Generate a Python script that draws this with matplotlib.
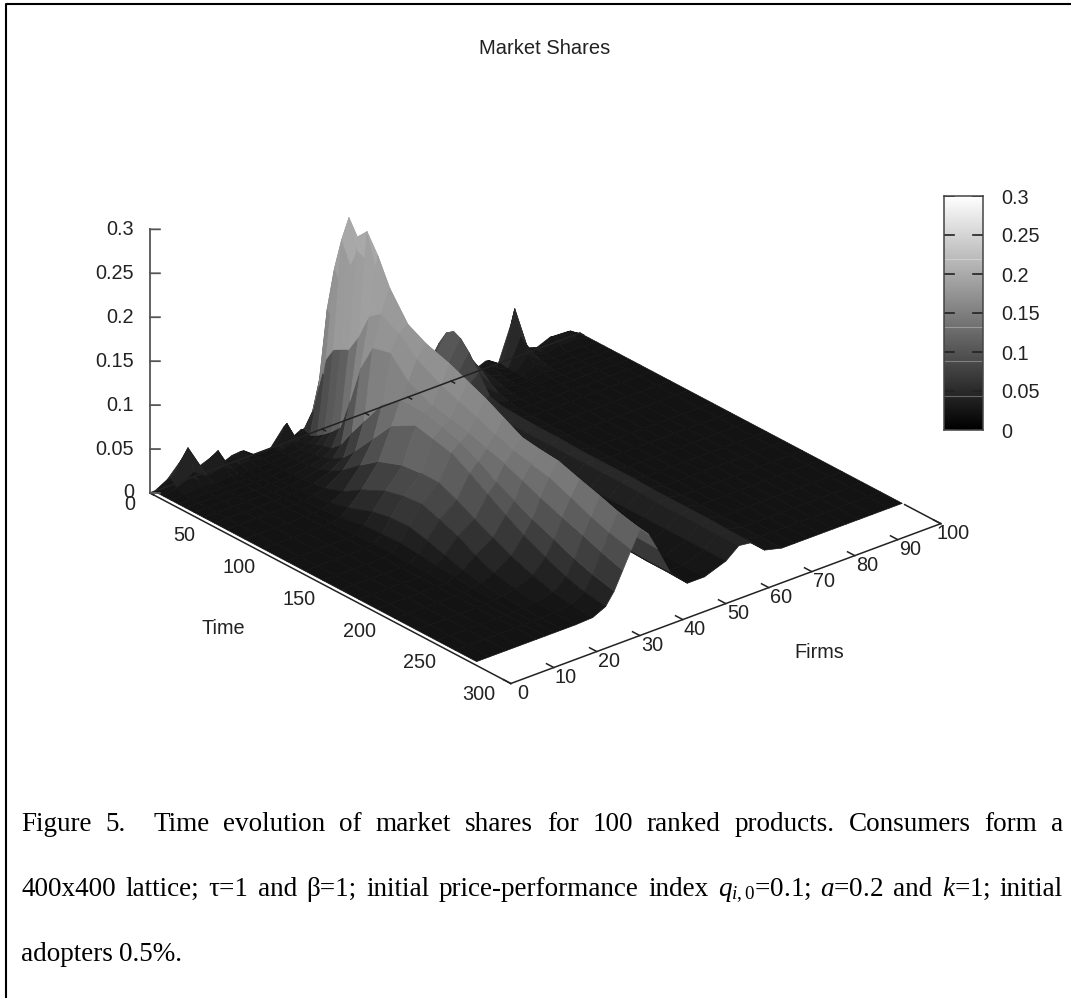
import numpy as np
import matplotlib
matplotlib.use("Agg")
import matplotlib.pyplot as plt
from matplotlib.colors import LinearSegmentedColormap
from mpl_toolkits.mplot3d import proj3d

plt.rcParams['font.family'] = ['Liberation Sans', 'DejaVu Sans']
plt.rcParams['mathtext.fontset'] = 'custom'
plt.rcParams['mathtext.rm'] = 'Liberation Serif'
plt.rcParams['mathtext.it'] = 'Liberation Serif:italic'

W, H = 1071, 998

time_nodes = [0, 3, 8, 14, 20, 26, 33, 41, 50, 60, 75, 90, 110, 125, 140, 155, 170, 185, 200, 218, 235, 250, 268]
firm_nodes = [1, 4, 8, 11, 15, 17, 19, 21, 24, 28, 31, 33, 35, 37, 39, 41, 43, 46, 50, 54,
              59, 62, 65, 68, 72, 75, 78, 81, 84, 87, 90, 93, 97, 100]

# market share x 1000, one row per firm node
shares = [
    [0, 0, 0, 0, 0, 0, 0, 0, 0, 0, 0, 0, 0, 0, 0, 0, 0, 0, 0, 0, 0, 0, 0],
    [8, 11, 4, 1, 0, 0, 0, 0, 0, 0, 0, 0, 0, 0, 0, 0, 0, 0, 0, 0, 0, 0, 0],
    [28, 39, 15, 4, 1, 0, 0, 0, 0, 0, 0, 0, 0, 0, 0, 0, 0, 0, 0, 0, 0, 0, 0],
    [9, 12, 5, 1, 0, 0, 0, 0, 0, 0, 0, 0, 0, 0, 0, 0, 0, 0, 0, 0, 0, 0, 0],
    [16, 23, 9, 2, 0, 0, 0, 0, 0, 0, 0, 0, 0, 0, 0, 0, 0, 0, 0, 0, 0, 0, 0],
    [4, 5, 2, 0, 0, 0, 0, 0, 0, 0, 0, 0, 1, 2, 2, 1, 1, 0, 0, 0, 0, 0, 0],
    [8, 11, 4, 1, 0, 0, 0, 0, 0, 0, 1, 3, 8, 9, 10, 8, 6, 4, 2, 1, 0, 0, 0],
    [9, 12, 5, 1, 0, 0, 0, 0, 1, 2, 5, 10, 20, 24, 25, 20, 14, 8, 4, 2, 1, 0, 0],
    [0, 1, 1, 1, 1, 1, 1, 2, 3, 5, 12, 25, 38, 43, 45, 38, 30, 19, 10, 5, 2, 1, 0],
    [0, 2, 2, 2, 2, 3, 4, 6, 10, 18, 35, 50, 60, 62, 62, 53, 42, 32, 22, 13, 6, 3, 1],
    [18, 25, 8, 4, 5, 6, 8, 12, 20, 35, 60, 85, 100, 95, 90, 78, 65, 52, 40, 28, 18, 12, 8],
    [3, 5, 5, 7, 9, 12, 15, 25, 45, 65, 95, 110, 110, 104, 98, 87, 75, 65, 55, 45, 35, 28, 22],
    [8, 11, 8, 12, 18, 25, 35, 70, 115, 145, 150, 128, 115, 110, 105, 98, 92, 84, 75, 66, 58, 50, 42],
    [8, 28, 60, 95, 110, 115, 120, 140, 170, 180, 168, 150, 135, 127, 120, 111, 103, 99, 95, 85, 75, 68, 62],
    [20, 70, 145, 195, 232, 261, 244, 256, 235, 205, 175, 164, 155, 146, 137, 126, 115, 112, 110, 102, 95, 88, 82],
    [15, 55, 120, 165, 200, 220, 215, 215, 200, 175, 150, 140, 130, 122, 115, 106, 97, 94, 92, 86, 80, 76, 72],
    [10, 35, 75, 105, 130, 140, 140, 140, 130, 115, 100, 92, 85, 78, 72, 67, 63, 61, 60, 57, 55, 53, 52],
    [5, 15, 30, 45, 55, 60, 60, 58, 55, 48, 40, 36, 32, 30, 28, 26, 25, 24, 23, 22, 21, 20, 20],
    [2, 3, 5, 6, 8, 8, 8, 8, 7, 6, 6, 5, 5, 4, 4, 3, 3, 2, 2, 2, 1, 1, 0],
    [0, 1, 1, 2, 3, 4, 3, 2, 1, 1, 1, 1, 1, 1, 1, 1, 1, 1, 0, 0, 0, 0, 0],
    [0, 2, 6, 10, 20, 25, 22, 15, 10, 9, 9, 9, 9, 9, 9, 9, 9, 9, 9, 9, 9, 9, 9],
    [3, 15, 35, 50, 55, 50, 42, 35, 25, 22, 22, 22, 22, 22, 22, 22, 22, 22, 21, 21, 21, 21, 21],
    [10, 30, 58, 74, 80, 76, 65, 48, 28, 24, 23, 22, 22, 21, 21, 21, 21, 20, 20, 20, 20, 19, 19],
    [8, 25, 45, 55, 50, 38, 22, 10, 6, 5, 5, 5, 5, 5, 5, 5, 5, 5, 5, 5, 5, 5, 5],
    [5, 10, 20, 25, 20, 12, 6, 3, 1, 0, 0, 0, 0, 0, 0, 0, 0, 0, 0, 0, 0, 0, 0],
    [2, 3, 6, 8, 6, 3, 1, 0, 0, 0, 0, 0, 0, 0, 0, 0, 0, 0, 0, 0, 0, 0, 0],
    [8, 11, 5, 2, 1, 0, 0, 0, 0, 0, 0, 0, 0, 0, 0, 0, 0, 0, 0, 0, 0, 0, 0],
    [0, 1, 0, 0, 0, 0, 0, 0, 0, 0, 0, 0, 0, 0, 0, 0, 0, 0, 0, 0, 0, 0, 0],
    [40, 59, 30, 15, 8, 4, 2, 1, 1, 0, 0, 0, 0, 0, 0, 0, 0, 0, 0, 0, 0, 0, 0],
    [6, 9, 6, 3, 1, 0, 0, 0, 0, 0, 0, 0, 0, 0, 0, 0, 0, 0, 0, 0, 0, 0, 0],
    [2, 3, 1, 0, 0, 0, 0, 0, 0, 0, 0, 0, 0, 0, 0, 0, 0, 0, 0, 0, 0, 0, 0],
    [8, 11, 5, 1, 0, 0, 0, 0, 0, 0, 0, 0, 0, 0, 0, 0, 0, 0, 0, 0, 0, 0, 0],
    [7, 10, 5, 1, 0, 0, 0, 0, 0, 0, 0, 0, 0, 0, 0, 0, 0, 0, 0, 0, 0, 0, 0],
    [0, 0, 0, 0, 0, 0, 0, 0, 0, 0, 0, 0, 0, 0, 0, 0, 0, 0, 0, 0, 0, 0, 0],
]

time_ticks = [0, 50, 100, 150, 200, 250, 300]
firm_ticks = [0, 10, 20, 30, 40, 50, 60, 70, 80, 90, 100]
z_ticks = [0, 0.05, 0.1, 0.15, 0.2, 0.25, 0.3]
z_tick_labels = ['0', '0.05', '0.1', '0.15', '0.2', '0.25', '0.3']
bar_bands = [0.043, 0.088, 0.132, 0.219]

caption1 = "Figure 5.  Time evolution of market shares for 100 ranked products. Consumers form a"
caption2 = (r"400x400 lattice; τ=1 and β=1; initial price-performance index "
            r"$q_{\mathit{i,0}}$=0.1; $a$=0.2 and $k$=1; initial")
caption3 = "adopters 0.5%."

fig = plt.figure(figsize=(W / 100, H / 100), dpi=100, facecolor='white')
ax = fig.add_axes([0.1, 0.1, 0.8, 0.8], projection='3d', proj_type='ortho')
ax.set_axis_off()
ax.computed_zorder = False
ax.view_init(elev=26.3, azim=-40)
ax.set_xlim(0, 300)
ax.set_ylim(0, 100)
ax.set_zlim(0, 0.3)
ax.set_box_aspect((1, 1, 0.524))


def to_px(x, y, z):
    x2, y2, _ = proj3d.proj_transform(x, y, z, ax.get_proj())
    return ax.transData.transform((x2, y2))


# fit the box to where the origin and the time axis sit in the picture
ax.apply_aspect()
d = np.hypot(*(to_px(300, 0, 0) - to_px(0, 0, 0)))
ax.set_box_aspect((1, 1, 0.524), zoom=408.0 / d)
ax.apply_aspect()
p = to_px(0, 0, 0)
pos = ax.get_position()
ax.set_position([pos.x0 + (150 - p[0]) / W, pos.y0 + (H - 493 - p[1]) / H, pos.width, pos.height])
ax.apply_aspect()

surface_cmap = LinearSegmentedColormap.from_list(
    'surf', [(0, '#131313'), (0.037, '#1b1b1b'), (0.185, '#484848'), (0.37, '#7a7a7a'),
             (0.555, '#909090'), (0.74, '#a0a0a0'), (1, '#b4b4b4')])

Z = np.array(shares, dtype=float) / 1000
TT, FF = np.meshgrid(time_nodes, firm_nodes)
zm = (Z[:-1, :-1] + Z[1:, :-1] + Z[:-1, 1:] + Z[1:, 1:]) / 4
ax.plot_surface(TT, FF, Z, rstride=1, cstride=1, facecolors=surface_cmap(zm / 0.27), shade=False,
                linewidth=0.5, antialiased=True, zorder=1)

# axes
axis_kw = dict(color='#222222', lw=1.1, zorder=5, clip_on=False)
ax.plot([0, 300], [0, 0], [0, 0], **axis_kw)
ax.plot([300, 300], [0, 100], [0, 0], **axis_kw)
ax.plot([0, 0], [0, 100], [0, 0], **axis_kw)
ax.plot([270, 300], [100, 100], [0, 0], **axis_kw)
ax.plot([0, 0], [0, 0], [0, 0.3], color='#555555', lw=1.3, zorder=5)

for t in time_ticks:
    p = to_px(t, 0, 0)
    fig.text((p[0] - 15) / W, (p[1] - 11) / H, str(t), ha='right', va='center', fontsize=14.3, color='#222222')
for f in firm_ticks:
    ax.plot([300, 294], [f, f], [0, 0], **axis_kw)
    ax.plot([0, 3], [f, f], [0, 0], **axis_kw)
    p = to_px(300, f, 0)
    fig.text((p[0] + 12) / W, (p[1] - 10) / H, str(f), ha='center', va='center', fontsize=14.3, color='#222222')
for z, lab in zip(z_ticks, z_tick_labels):
    # the gnuplot ticks run level on the page
    ax.plot([0, 3.4], [0, 1.35], [z, z], color='#555555', lw=1.3, zorder=5)
    p = to_px(0, 0, z)
    fig.text((p[0] - 16) / W, p[1] / H, lab, ha='right', va='center', fontsize=14.3, color='#222222')

fig.text(545 / W, 1 - 48 / H, "Market Shares", ha='center', va='center', fontsize=14.5, color='#222222')
fig.text(223 / W, 1 - 629 / H, "Time", ha='center', va='center', fontsize=14.3, color='#222222')
fig.text(819 / W, 1 - 652 / H, "Firms", ha='center', va='center', fontsize=14.3, color='#222222')

# colour box
cax = fig.add_axes([944 / W, 1 - 430 / H, 39 / W, 234 / H])
cax.imshow(np.linspace(0, 0.3, 256)[:, None], cmap='gray', origin='lower', aspect='auto',
           extent=[0, 1, 0, 0.3], vmin=0, vmax=0.3)
cax.hlines(bar_bands, 0, 1, color='white', lw=0.8, alpha=0.3)
for z in z_ticks:
    cax.plot([0, 0.25], [z, z], color='#222222', lw=1.2, clip_on=True)
    cax.plot([0.75, 1], [z, z], color='#222222', lw=1.2, clip_on=True)
cax.set_xlim(0, 1)
cax.set_ylim(0, 0.3)
cax.set_xticks([])
cax.yaxis.tick_right()
cax.set_yticks(z_ticks)
cax.set_yticklabels(z_tick_labels, fontsize=14.3, color='#222222')
cax.tick_params(axis='y', length=0, pad=13)
for s in cax.spines.values():
    s.set_color('#444444')
    s.set_linewidth(1.1)

# caption, stretched to the text width like the page it came from
renderer = fig.canvas.get_renderer()


def justified(line, y, x0=21, x1=1063, stretch=True):
    parts = line.split(' ')
    items = [fig.text(0, 1 - y / H, s, family=['Liberation Serif'], fontsize=19.5, va='baseline') for s in parts]
    widths = [t.get_window_extent(renderer).width for t in items]
    gap = (x1 - x0 - sum(widths)) / (len(parts) - 1) if stretch else 6
    x = x0
    for t, w in zip(items, widths):
        t.set_x(x / W)
        x += w + gap


justified(caption1, 831)
justified(caption2, 896)
justified(caption3, 961, stretch=False)

# page border
fig.add_artist(plt.Line2D([6 / W, 6 / W, 1], [0, 1 - 4 / H, 1 - 4 / H], color='black', lw=1.5))

fig.savefig('out.png', dpi=100)
